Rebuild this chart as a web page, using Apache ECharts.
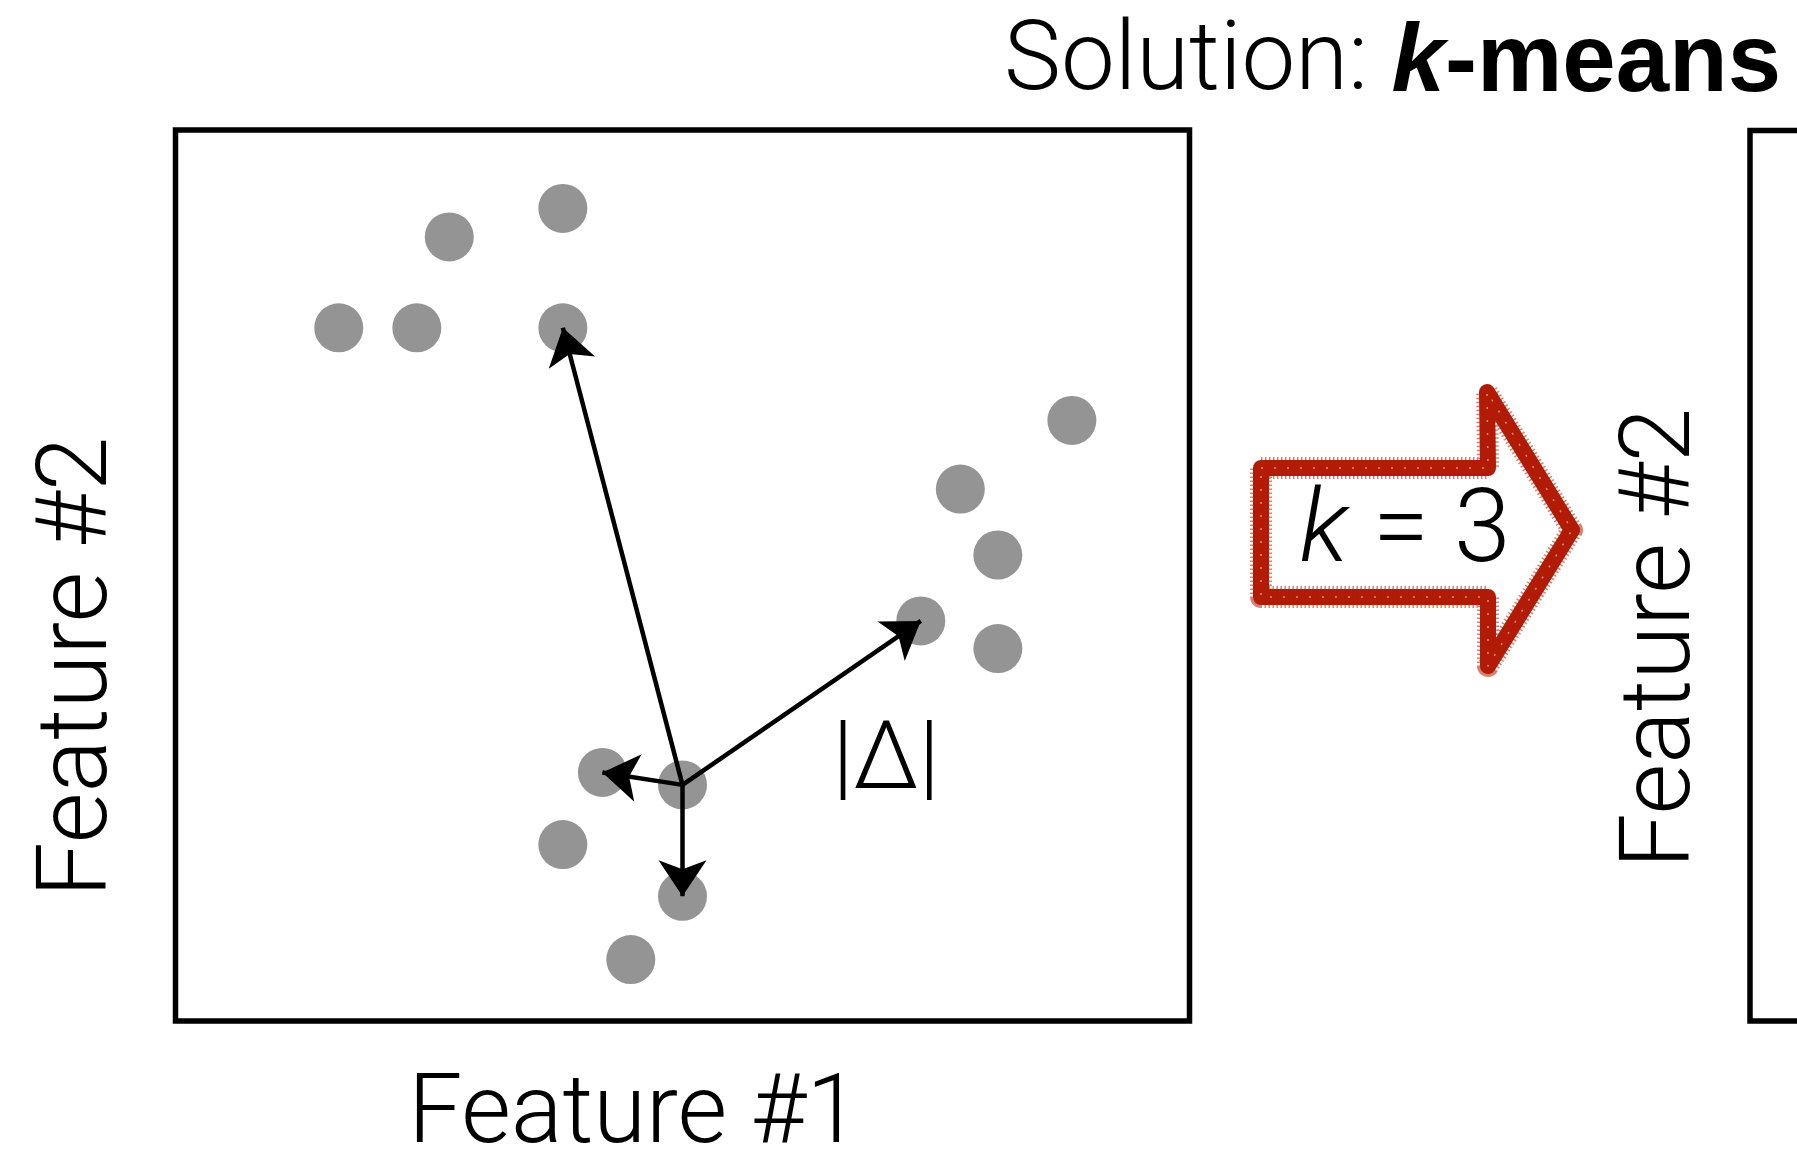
<!DOCTYPE html>
<html><head><meta charset="utf-8">
<script src="https://cdn.jsdelivr.net/npm/echarts@6/dist/echarts.min.js"></script>
<style>html,body{margin:0;padding:0;background:#fff;}#c{width:1797px;height:1152px;}</style>
</head><body><div id="c"></div>
<script>
// ---- data (feature space, 0..10 on both axes) ----
const pointX = [3.82, 2.70, 1.61, 2.38, 3.82, 8.84, 7.74, 8.11, 7.35, 8.11, 4.21, 5.00, 3.82, 5.00, 4.49];
const pointY = [9.12, 8.80, 7.78, 7.78, 7.78, 6.74, 5.97, 5.23, 4.49, 4.18, 2.79, 2.65, 1.98, 1.40, 0.69];
const sourceIndex = 11;              // point the distance arrows start from
const targetIndices = [4, 8, 10, 13]; // points the arrows point to
const xLabel = 'Feature #1';
const yLabel = 'Feature #2';
const titleLight = 'Solution: ';
const titleK = 'k';
const titleRest = '-means';
const arrowLabelK = 'k';
const arrowLabelRest = ' = 3';
const deltaLabel = '|Δ|';

const LIGHT = "Roboto";
const BOLD = "'Liberation Sans', Arial, sans-serif";

const chart = echarts.init(document.getElementById('c'), null, {renderer: 'canvas'});
const hidden = {axisLine:{show:false}, axisTick:{show:false}, axisLabel:{show:false}, splitLine:{show:false}};
const nameStyle = {fontFamily: LIGHT, fontWeight: 300, fontSize: 96, color: '#000', lineHeight: 96};
const arrowPts = [[1261,468],[1488,468],[1487,392],[1572,530],[1488,666],[1488,597],[1261,597]];

chart.setOption({
  animation: false,
  backgroundColor: '#fff',
  title: {
    left: 999, top: 12,
    text: '{a|' + titleLight + '}{k|' + titleK + '}{m|' + titleRest + '}',
    textStyle: {
      rich: {
        a: {fontFamily: LIGHT, fontWeight: 300, fontSize: 96, color: '#000', lineHeight: 96},
        k: {fontFamily: BOLD, fontWeight: 'bold', fontStyle: 'italic', fontSize: 96, color: '#000', lineHeight: 96},
        m: {fontFamily: BOLD, fontWeight: 'bold', fontSize: 96, color: '#000', lineHeight: 96}
      }
    }
  },
  grid: [
    {left: 175.5, top: 130, width: 1014, height: 891, show: true, borderColor: '#000', borderWidth: 5.5,
      backgroundColor: 'transparent', containLabel: false, outerBoundsMode: 'none'},
    {left: 1750, top: 130.5, width: 600, height: 890.5, show: true, borderColor: '#000', borderWidth: 5.5,
      backgroundColor: 'transparent', containLabel: false, outerBoundsMode: 'none'}
  ],
  xAxis: [
    Object.assign({gridIndex: 0, type: 'value', min: 0, max: 10, name: xLabel, nameLocation: 'middle', nameGap: 49,
      nameTextStyle: Object.assign({}, nameStyle, {padding: [0, 97, 0, 0]})}, hidden),
    Object.assign({gridIndex: 1, type: 'value', min: 0, max: 10}, hidden)
  ],
  yAxis: [
    Object.assign({gridIndex: 0, type: 'value', min: 0, max: 10, name: yLabel, nameLocation: 'middle', nameGap: 45,
      nameTextStyle: Object.assign({}, nameStyle, {fontSize: 98, lineHeight: 98, padding: [0, 183, 0, 0]})}, hidden),
    Object.assign({gridIndex: 1, type: 'value', min: 0, max: 10, name: yLabel, nameLocation: 'middle', nameGap: 37,
      nameTextStyle: Object.assign({}, nameStyle, {fontSize: 98, lineHeight: 98, padding: [0, 125, 0, 0]})}, hidden)
  ],
  series: [
    {
      type: 'scatter', xAxisIndex: 0, yAxisIndex: 0, silent: true, z: 2,
      data: pointX.map((x, i) => [x, pointY[i]]),
      symbol: 'circle', symbolSize: 49,
      itemStyle: {color: '#949494', opacity: 1}
    },
    {
      type: 'lines', coordinateSystem: 'cartesian2d', xAxisIndex: 0, yAxisIndex: 0, silent: true, z: 5,
      symbol: ['none', 'arrow'], symbolSize: [28, 36],
      lineStyle: {color: '#000', width: 4.5, opacity: 1, curveness: 0},
      data: targetIndices.map(i => ({coords: [[pointX[sourceIndex], pointY[sourceIndex]], [pointX[i], pointY[i]]]}))
    }
  ],
  graphic: [
    {type: 'polygon', z: 10, silent: true, shape: {points: arrowPts},
      style: {fill: 'none', stroke: '#b21b05', lineWidth: 16, lineJoin: 'round'}},
    {type: 'polygon', z: 10, silent: true, shape: {points: arrowPts},
      style: {fill: 'none', stroke: '#b21b05', lineWidth: 22, lineDash: [1.5, 2.5], opacity: 0.55, lineJoin: 'round'}},
    {type: 'polygon', z: 11, silent: true, shape: {points: arrowPts},
      style: {fill: 'none', stroke: '#ffffff', lineWidth: 1.5, lineDash: [2, 11], opacity: 0.5, lineJoin: 'round'}},
    {type: 'text', z: 11, silent: true, x: 1405, y: 535,
      style: {text: '{i|' + arrowLabelK + '}{r|' + arrowLabelRest + '}', align: 'center', verticalAlign: 'middle',
        rich: {i: {fontFamily: LIGHT, fontWeight: 300, fontStyle: 'italic', fontSize: 102, fill: '#000'},
               r: {fontFamily: LIGHT, fontWeight: 300, fontSize: 102, fill: '#000'}}}},
    {type: 'text', z: 11, silent: true, x: 886, y: 764,
      style: {text: deltaLabel, align: 'center', verticalAlign: 'middle', fontFamily: LIGHT, fontWeight: 300, fontSize: 94, fill: '#000'}}
  ]
});
</script></body></html>
